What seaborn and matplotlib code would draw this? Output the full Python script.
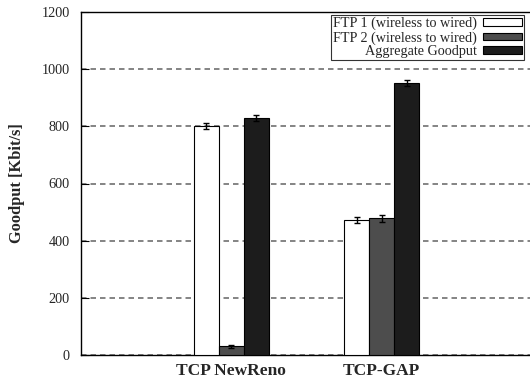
import matplotlib
matplotlib.use("Agg")
import matplotlib.pyplot as plt
import seaborn as sns
import pandas as pd

# Goodput per protocol and flow (Kbit/s), with error-bar half widths
protocols = ["TCP NewReno", "TCP-GAP"]
series_names = ["FTP 1 (wireless to wired)", "FTP 2 (wireless to wired)", "Aggregate Goodput"]
ftp1 = [800, 472]
ftp2 = [30, 479]
aggregate = [830, 951]
ftp1_err = [10, 10]
ftp2_err = [5, 12]
aggregate_err = [10, 10]
y_ticks = [0, 200, 400, 600, 800, 1000, 1200]

values = [ftp1, ftp2, aggregate]
errors = [ftp1_err, ftp2_err, aggregate_err]
rows = []
for name, vals, errs in zip(series_names, values, errors):
    for proto, v, e in zip(protocols, vals, errs):
        rows.append({"Protocol": proto, "Flow": name, "Goodput": v, "Err": e})
df = pd.DataFrame(rows)

sns.set_theme(style="white")
plt.rcParams["font.family"] = ["Liberation Serif", "DejaVu Serif"]

fig = plt.figure(figsize=(5.3, 3.8), dpi=100)
ax = fig.add_axes([81 / 530, 25 / 380, 451 / 530, 343 / 380])

palette = {series_names[0]: "#ffffff", series_names[1]: "#4d4d4d", series_names[2]: "#1c1c1c"}
sns.barplot(data=df, x="Protocol", y="Goodput", hue="Flow", order=protocols,
            hue_order=series_names, palette=palette, width=0.5, errorbar=None,
            edgecolor="black", linewidth=0.8, saturation=1, ax=ax, zorder=3)

# error bars placed on the drawn bars
for container, name in zip(ax.containers, series_names):
    sub = df[df["Flow"] == name].set_index("Protocol").loc[protocols]
    xs = [p.get_x() + p.get_width() / 2 for p in container.patches]
    ax.errorbar(xs, sub["Goodput"].values, yerr=sub["Err"].values, fmt="none",
                ecolor="black", elinewidth=1.0, capsize=2.5, capthick=1.0, zorder=4)

ax.set_xlim(-1, 2)
ax.set_ylim(0, 1200)
ax.set_yticks(y_ticks)
ax.set_yticklabels([str(t) for t in y_ticks], fontsize=10.3)
ax.tick_params(axis="y", direction="in", length=6, width=0.8, color="black", pad=8, left=True)
ax.tick_params(axis="x", length=0, pad=6)
for lbl in ax.get_xticklabels():
    lbl.set_fontsize(12.5)
    lbl.set_fontweight("bold")

ax.set_xlabel("")
ax.set_ylabel("Goodput [Kbit/s]", fontsize=11.8, fontweight="bold", labelpad=12)

ax.yaxis.grid(True, linestyle=(0, (3.3, 2.4)), color="#707070", linewidth=1.2)
ax.set_axisbelow(True)
for side in ["left", "bottom", "top"]:
    ax.spines[side].set_color("black")
    ax.spines[side].set_linewidth(1.0)
ax.spines["right"].set_visible(False)

handles, labels = ax.get_legend_handles_labels()
ax.get_legend().remove()
leg = ax.legend(handles, labels, loc="upper right", bbox_to_anchor=(443 / 451, 0.992),
                markerfirst=False, fancybox=False, frameon=True, fontsize=10.2,
                handlelength=2.75, handleheight=0.45, labelspacing=0.05,
                borderpad=0.15, handletextpad=0.4, borderaxespad=0)
leg.get_frame().set_edgecolor("black")
leg.get_frame().set_linewidth(0.8)
for t in leg.get_texts():
    t.set_ha("right")

fig.savefig("out.png", dpi=100)
